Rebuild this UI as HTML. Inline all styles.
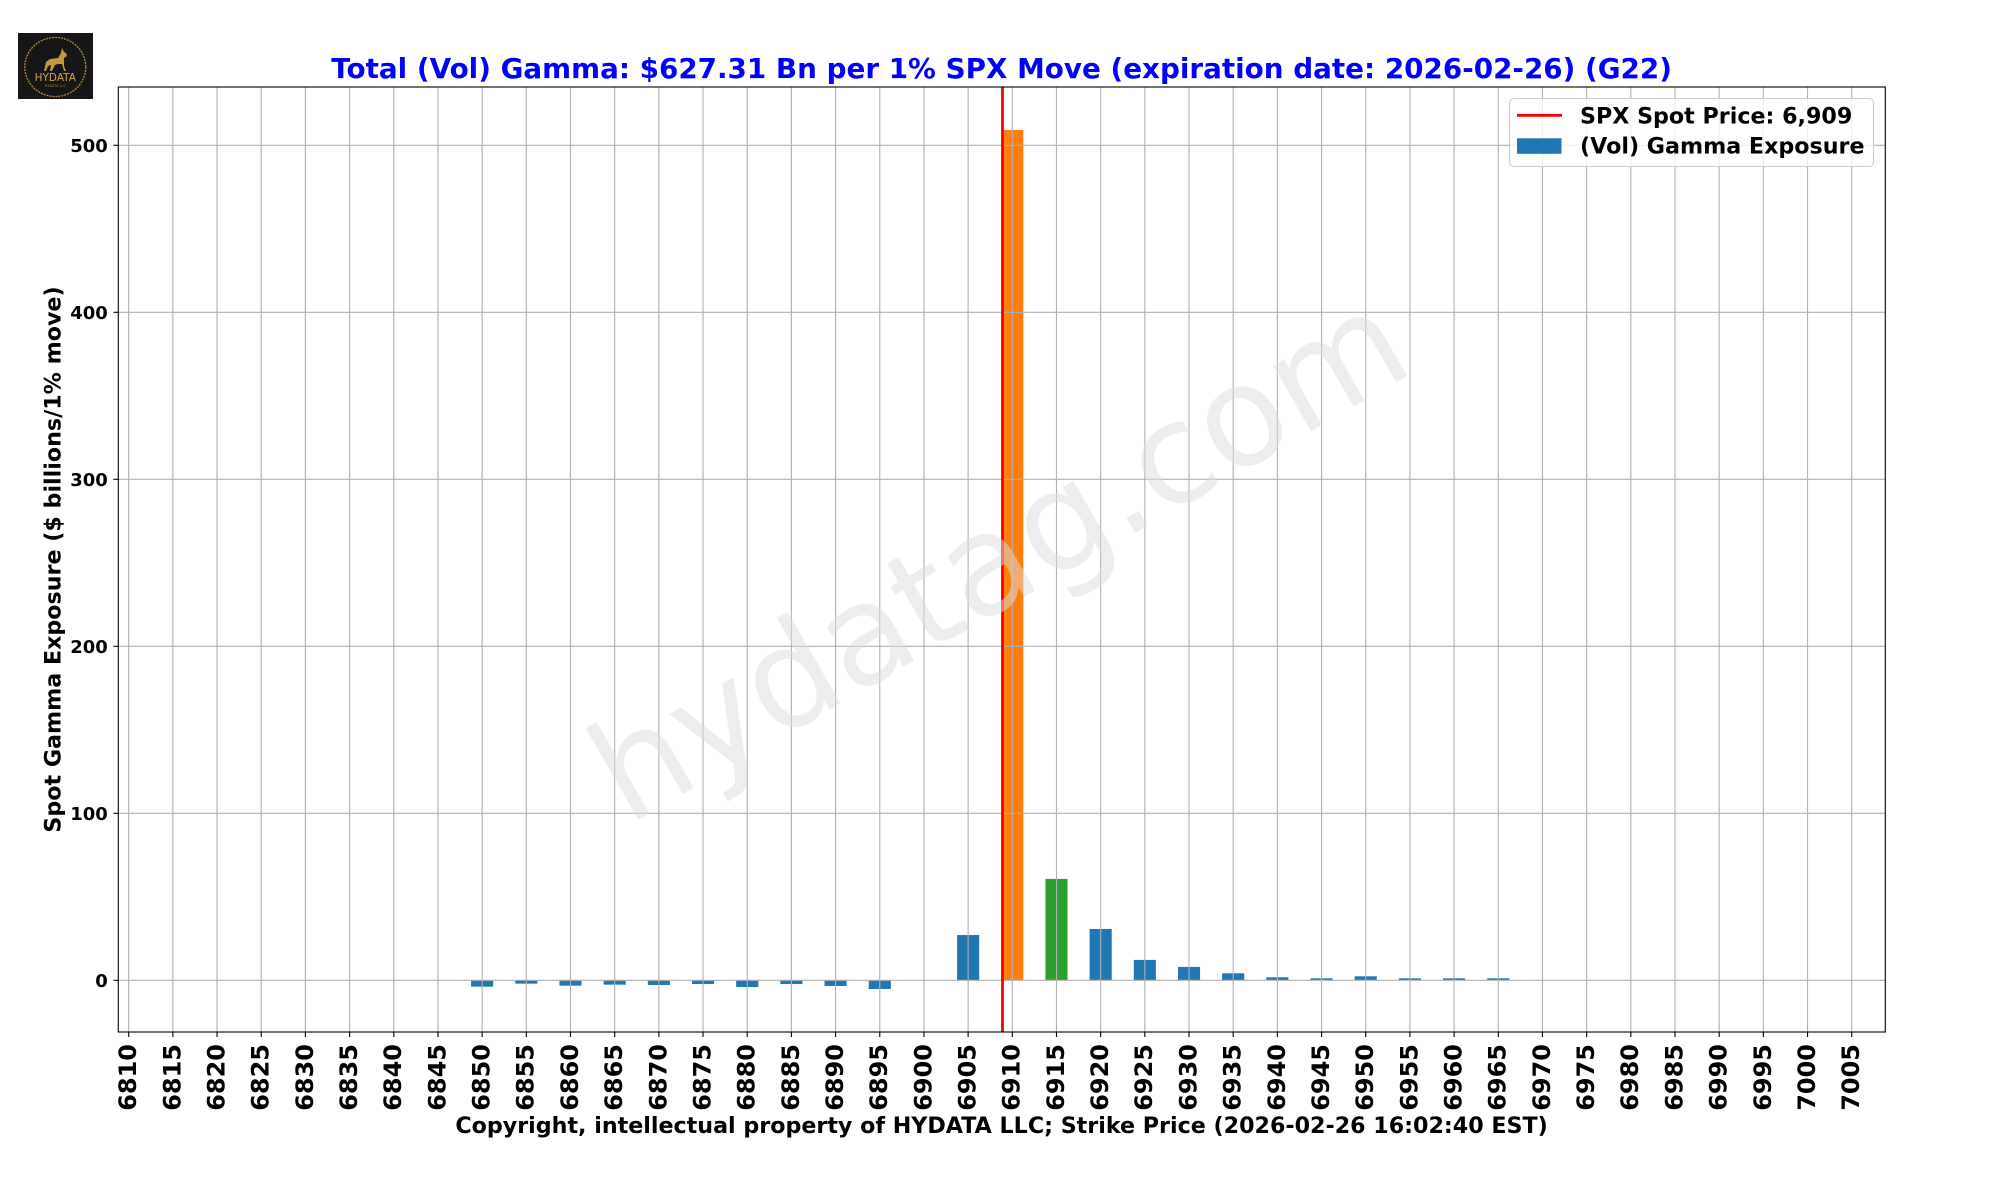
<!DOCTYPE html>
<html>
<head>
<meta charset="utf-8">
<style>
html,body{margin:0;padding:0;background:#fff;}
svg{display:block;}
text{font-family:"DejaVu Sans","Liberation Sans",sans-serif;font-weight:bold;}
</style>
</head>
<body>
<svg width="2000" height="1200" viewBox="0 0 2000 1200" xmlns="http://www.w3.org/2000/svg">
<rect x="0" y="0" width="2000" height="1200" fill="#ffffff"/>

<!-- Logo -->
<g>
  <rect x="18" y="33" width="75" height="66" fill="#161616"/>
  <ellipse cx="55.3" cy="67" rx="30.5" ry="29.5" fill="none" stroke="#b8893a" stroke-width="1.3" stroke-dasharray="2 1"/>
  <path d="M44,71 L46,62 L50,59 L58,58 L61,53 L62,48 L64,52 L66,53 L67,56 L64,58 L64,66 L66,71 L64,71 L62,64 L58,64 L55,65 L52,71 L50,71 L51,65 L48,66 L46,71 Z" fill="#c8983f"/>
  <text x="55.3" y="81" font-size="10.5" fill="#d2a24a" text-anchor="middle" style="font-weight:normal">HYDATA</text>
  <text x="55.3" y="87" font-size="3.5" fill="#a07a35" text-anchor="middle" style="font-weight:normal">HYDATA LLC</text>
</g>

<!-- Title -->
<text x="1001.6" y="78" font-size="27.8" fill="#0000ff" text-anchor="middle">Total (Vol) Gamma: $627.31 Bn per 1% SPX Move (expiration date: 2026-02-26) (G22)</text>

<!-- Bars -->
<g fill="#1f77b4">
  <rect x="471.09" y="980.3" width="22.1" height="6.35"/>
  <rect x="515.27" y="980.3" width="22.1" height="3.34"/>
  <rect x="559.45" y="980.3" width="22.1" height="5.34"/>
  <rect x="603.63" y="980.3" width="22.1" height="4.34"/>
  <rect x="647.81" y="980.3" width="22.1" height="4.68"/>
  <rect x="691.99" y="980.3" width="22.1" height="3.67"/>
  <rect x="736.17" y="980.3" width="22.1" height="6.68"/>
  <rect x="780.35" y="980.3" width="22.1" height="3.67"/>
  <rect x="824.53" y="980.3" width="22.1" height="5.68"/>
  <rect x="868.71" y="980.3" width="22.1" height="8.68"/>
  <rect x="957.07" y="935.04" width="22.1" height="45.26"/>
  <rect x="1089.61" y="929.0" width="22.1" height="51.3"/>
  <rect x="1133.79" y="959.9" width="22.1" height="20.4"/>
  <rect x="1177.97" y="966.9" width="22.1" height="13.4"/>
  <rect x="1222.15" y="973.3" width="22.1" height="7.0"/>
  <rect x="1266.33" y="977.3" width="22.1" height="3.0"/>
  <rect x="1310.51" y="978.3" width="22.1" height="2.0"/>
  <rect x="1354.69" y="976.3" width="22.1" height="4.0"/>
  <rect x="1398.87" y="978.3" width="22.1" height="2.0"/>
  <rect x="1443.05" y="978.3" width="22.1" height="2.0"/>
  <rect x="1487.23" y="978.3" width="22.1" height="2.0"/>
</g>
<rect x="1001.25" y="129.9" width="22.1" height="850.4" fill="#ff7f0e"/>
<rect x="1045.43" y="878.9" width="22.1" height="101.4" fill="#2ca02c"/>

<!-- Grid -->
<g stroke="#b0b0b0" stroke-width="1.1">
  <line x1="118.3" y1="980.3" x2="1885.3" y2="980.3"/>
  <line x1="118.3" y1="813.3" x2="1885.3" y2="813.3"/>
  <line x1="118.3" y1="646.3" x2="1885.3" y2="646.3"/>
  <line x1="118.3" y1="479.3" x2="1885.3" y2="479.3"/>
  <line x1="118.3" y1="312.3" x2="1885.3" y2="312.3"/>
  <line x1="118.3" y1="145.3" x2="1885.3" y2="145.3"/>
  <line x1="128.7" y1="87" x2="128.7" y2="1032"/>
  <line x1="172.88" y1="87" x2="172.88" y2="1032"/>
  <line x1="217.06" y1="87" x2="217.06" y2="1032"/>
  <line x1="261.24" y1="87" x2="261.24" y2="1032"/>
  <line x1="305.42" y1="87" x2="305.42" y2="1032"/>
  <line x1="349.6" y1="87" x2="349.6" y2="1032"/>
  <line x1="393.78" y1="87" x2="393.78" y2="1032"/>
  <line x1="437.96" y1="87" x2="437.96" y2="1032"/>
  <line x1="482.14" y1="87" x2="482.14" y2="1032"/>
  <line x1="526.32" y1="87" x2="526.32" y2="1032"/>
  <line x1="570.5" y1="87" x2="570.5" y2="1032"/>
  <line x1="614.68" y1="87" x2="614.68" y2="1032"/>
  <line x1="658.86" y1="87" x2="658.86" y2="1032"/>
  <line x1="703.04" y1="87" x2="703.04" y2="1032"/>
  <line x1="747.22" y1="87" x2="747.22" y2="1032"/>
  <line x1="791.4" y1="87" x2="791.4" y2="1032"/>
  <line x1="835.58" y1="87" x2="835.58" y2="1032"/>
  <line x1="879.76" y1="87" x2="879.76" y2="1032"/>
  <line x1="923.94" y1="87" x2="923.94" y2="1032"/>
  <line x1="968.12" y1="87" x2="968.12" y2="1032"/>
  <line x1="1012.3" y1="87" x2="1012.3" y2="1032"/>
  <line x1="1056.48" y1="87" x2="1056.48" y2="1032"/>
  <line x1="1100.66" y1="87" x2="1100.66" y2="1032"/>
  <line x1="1144.84" y1="87" x2="1144.84" y2="1032"/>
  <line x1="1189.02" y1="87" x2="1189.02" y2="1032"/>
  <line x1="1233.2" y1="87" x2="1233.2" y2="1032"/>
  <line x1="1277.38" y1="87" x2="1277.38" y2="1032"/>
  <line x1="1321.56" y1="87" x2="1321.56" y2="1032"/>
  <line x1="1365.74" y1="87" x2="1365.74" y2="1032"/>
  <line x1="1409.92" y1="87" x2="1409.92" y2="1032"/>
  <line x1="1454.1" y1="87" x2="1454.1" y2="1032"/>
  <line x1="1498.28" y1="87" x2="1498.28" y2="1032"/>
  <line x1="1542.46" y1="87" x2="1542.46" y2="1032"/>
  <line x1="1586.64" y1="87" x2="1586.64" y2="1032"/>
  <line x1="1630.82" y1="87" x2="1630.82" y2="1032"/>
  <line x1="1675.0" y1="87" x2="1675.0" y2="1032"/>
  <line x1="1719.18" y1="87" x2="1719.18" y2="1032"/>
  <line x1="1763.36" y1="87" x2="1763.36" y2="1032"/>
  <line x1="1807.54" y1="87" x2="1807.54" y2="1032"/>
  <line x1="1851.72" y1="87" x2="1851.72" y2="1032"/>
</g>

<!-- Spot price line -->
<line x1="1002.5" y1="87" x2="1002.5" y2="1032" stroke="#ff0000" stroke-width="2.8"/>

<!-- Watermark -->
<text x="1022.5" y="598" font-size="138.9" fill="#dcdcdc" fill-opacity="0.5" text-anchor="middle" transform="rotate(-30 1022.5 598)" style="font-weight:normal">hydatag.com</text>

<!-- Spines -->
<rect x="118.3" y="87" width="1767" height="945" fill="none" stroke="#000" stroke-width="1.1"/>

<!-- Y ticks -->
<g stroke="#000" stroke-width="1.1">
  <line x1="113.4" y1="980.3" x2="118.3" y2="980.3"/>
  <line x1="113.4" y1="813.3" x2="118.3" y2="813.3"/>
  <line x1="113.4" y1="646.3" x2="118.3" y2="646.3"/>
  <line x1="113.4" y1="479.3" x2="118.3" y2="479.3"/>
  <line x1="113.4" y1="312.3" x2="118.3" y2="312.3"/>
  <line x1="113.4" y1="145.3" x2="118.3" y2="145.3"/>
</g>
<g font-size="18" text-anchor="end" fill="#000">
  <text x="107.8" y="986.8">0</text>
  <text x="107.8" y="819.8">100</text>
  <text x="107.8" y="652.8">200</text>
  <text x="107.8" y="485.8">300</text>
  <text x="107.8" y="318.8">400</text>
  <text x="107.8" y="151.8">500</text>
</g>

<!-- X ticks -->
<g stroke="#000" stroke-width="1.1">
  <line x1="128.7" y1="1032" x2="128.7" y2="1037"/>
  <line x1="172.88" y1="1032" x2="172.88" y2="1037"/>
  <line x1="217.06" y1="1032" x2="217.06" y2="1037"/>
  <line x1="261.24" y1="1032" x2="261.24" y2="1037"/>
  <line x1="305.42" y1="1032" x2="305.42" y2="1037"/>
  <line x1="349.6" y1="1032" x2="349.6" y2="1037"/>
  <line x1="393.78" y1="1032" x2="393.78" y2="1037"/>
  <line x1="437.96" y1="1032" x2="437.96" y2="1037"/>
  <line x1="482.14" y1="1032" x2="482.14" y2="1037"/>
  <line x1="526.32" y1="1032" x2="526.32" y2="1037"/>
  <line x1="570.5" y1="1032" x2="570.5" y2="1037"/>
  <line x1="614.68" y1="1032" x2="614.68" y2="1037"/>
  <line x1="658.86" y1="1032" x2="658.86" y2="1037"/>
  <line x1="703.04" y1="1032" x2="703.04" y2="1037"/>
  <line x1="747.22" y1="1032" x2="747.22" y2="1037"/>
  <line x1="791.4" y1="1032" x2="791.4" y2="1037"/>
  <line x1="835.58" y1="1032" x2="835.58" y2="1037"/>
  <line x1="879.76" y1="1032" x2="879.76" y2="1037"/>
  <line x1="923.94" y1="1032" x2="923.94" y2="1037"/>
  <line x1="968.12" y1="1032" x2="968.12" y2="1037"/>
  <line x1="1012.3" y1="1032" x2="1012.3" y2="1037"/>
  <line x1="1056.48" y1="1032" x2="1056.48" y2="1037"/>
  <line x1="1100.66" y1="1032" x2="1100.66" y2="1037"/>
  <line x1="1144.84" y1="1032" x2="1144.84" y2="1037"/>
  <line x1="1189.02" y1="1032" x2="1189.02" y2="1037"/>
  <line x1="1233.2" y1="1032" x2="1233.2" y2="1037"/>
  <line x1="1277.38" y1="1032" x2="1277.38" y2="1037"/>
  <line x1="1321.56" y1="1032" x2="1321.56" y2="1037"/>
  <line x1="1365.74" y1="1032" x2="1365.74" y2="1037"/>
  <line x1="1409.92" y1="1032" x2="1409.92" y2="1037"/>
  <line x1="1454.1" y1="1032" x2="1454.1" y2="1037"/>
  <line x1="1498.28" y1="1032" x2="1498.28" y2="1037"/>
  <line x1="1542.46" y1="1032" x2="1542.46" y2="1037"/>
  <line x1="1586.64" y1="1032" x2="1586.64" y2="1037"/>
  <line x1="1630.82" y1="1032" x2="1630.82" y2="1037"/>
  <line x1="1675.0" y1="1032" x2="1675.0" y2="1037"/>
  <line x1="1719.18" y1="1032" x2="1719.18" y2="1037"/>
  <line x1="1763.36" y1="1032" x2="1763.36" y2="1037"/>
  <line x1="1807.54" y1="1032" x2="1807.54" y2="1037"/>
  <line x1="1851.72" y1="1032" x2="1851.72" y2="1037"/>
</g>
<g font-size="24" text-anchor="end" fill="#000">
  <text transform="translate(136.1 1044) rotate(-90)">6810</text>
  <text transform="translate(180.28 1044) rotate(-90)">6815</text>
  <text transform="translate(224.46 1044) rotate(-90)">6820</text>
  <text transform="translate(268.64 1044) rotate(-90)">6825</text>
  <text transform="translate(312.82 1044) rotate(-90)">6830</text>
  <text transform="translate(357.0 1044) rotate(-90)">6835</text>
  <text transform="translate(401.18 1044) rotate(-90)">6840</text>
  <text transform="translate(445.36 1044) rotate(-90)">6845</text>
  <text transform="translate(489.54 1044) rotate(-90)">6850</text>
  <text transform="translate(533.72 1044) rotate(-90)">6855</text>
  <text transform="translate(577.9 1044) rotate(-90)">6860</text>
  <text transform="translate(622.08 1044) rotate(-90)">6865</text>
  <text transform="translate(666.26 1044) rotate(-90)">6870</text>
  <text transform="translate(710.44 1044) rotate(-90)">6875</text>
  <text transform="translate(754.62 1044) rotate(-90)">6880</text>
  <text transform="translate(798.8 1044) rotate(-90)">6885</text>
  <text transform="translate(842.98 1044) rotate(-90)">6890</text>
  <text transform="translate(887.16 1044) rotate(-90)">6895</text>
  <text transform="translate(931.34 1044) rotate(-90)">6900</text>
  <text transform="translate(975.52 1044) rotate(-90)">6905</text>
  <text transform="translate(1019.7 1044) rotate(-90)">6910</text>
  <text transform="translate(1063.88 1044) rotate(-90)">6915</text>
  <text transform="translate(1108.06 1044) rotate(-90)">6920</text>
  <text transform="translate(1152.24 1044) rotate(-90)">6925</text>
  <text transform="translate(1196.42 1044) rotate(-90)">6930</text>
  <text transform="translate(1240.6 1044) rotate(-90)">6935</text>
  <text transform="translate(1284.78 1044) rotate(-90)">6940</text>
  <text transform="translate(1328.96 1044) rotate(-90)">6945</text>
  <text transform="translate(1373.14 1044) rotate(-90)">6950</text>
  <text transform="translate(1417.32 1044) rotate(-90)">6955</text>
  <text transform="translate(1461.5 1044) rotate(-90)">6960</text>
  <text transform="translate(1505.68 1044) rotate(-90)">6965</text>
  <text transform="translate(1549.86 1044) rotate(-90)">6970</text>
  <text transform="translate(1594.04 1044) rotate(-90)">6975</text>
  <text transform="translate(1638.22 1044) rotate(-90)">6980</text>
  <text transform="translate(1682.4 1044) rotate(-90)">6985</text>
  <text transform="translate(1726.58 1044) rotate(-90)">6990</text>
  <text transform="translate(1770.76 1044) rotate(-90)">6995</text>
  <text transform="translate(1814.94 1044) rotate(-90)">7000</text>
  <text transform="translate(1859.12 1044) rotate(-90)">7005</text>
</g>

<!-- Axis labels -->
<text x="1001.6" y="1133" font-size="22.2" text-anchor="middle" fill="#000">Copyright, intellectual property of HYDATA LLC; Strike Price (2026-02-26 16:02:40 EST)</text>
<text transform="translate(60.5 559.5) rotate(-90)" font-size="22.2" text-anchor="middle" fill="#000">Spot Gamma Exposure ($ billions/1% move)</text>

<!-- Legend -->
<rect x="1509.5" y="98.5" width="364" height="68" rx="4.4" ry="4.4" fill="#ffffff" fill-opacity="0.8" stroke="#cccccc" stroke-width="1.1"/>
<line x1="1517" y1="115.3" x2="1562" y2="115.3" stroke="#ff0000" stroke-width="2.8"/>
<rect x="1517" y="138.3" width="44.5" height="15.5" fill="#1f77b4"/>
<text x="1580" y="123.4" font-size="22.2" fill="#000">SPX Spot Price: 6,909</text>
<text x="1580" y="153.4" font-size="22.2" fill="#000">(Vol) Gamma Exposure</text>
</svg>
</body>
</html>
